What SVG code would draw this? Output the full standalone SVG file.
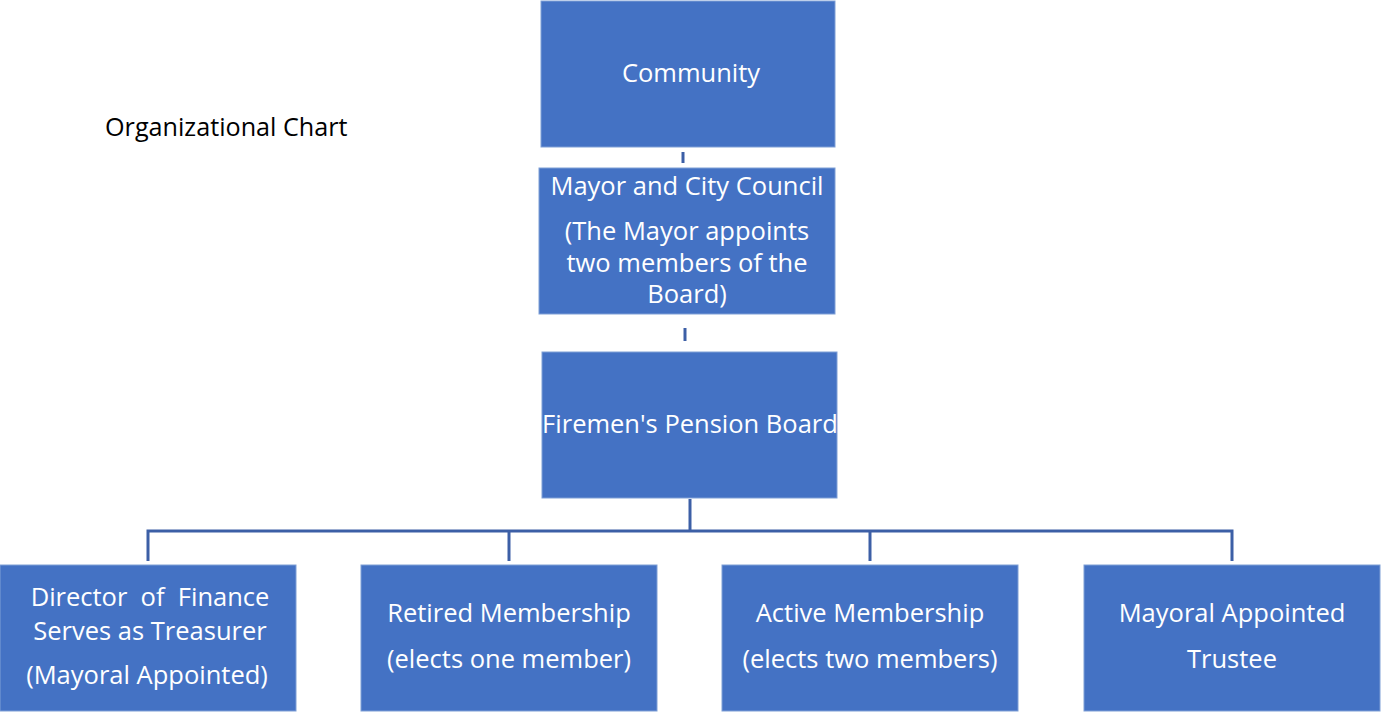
<svg xmlns="http://www.w3.org/2000/svg" width="1381" height="712" viewBox="0 0 1381 712">
<style>
.box{fill:#4472C4;stroke:#7E9FD6;stroke-width:1}
.t{font-family:"Open Sans","Noto Sans",sans-serif;font-size:25.5px;fill:#FFFFFF;text-anchor:middle}
.lbl{font-family:"Open Sans","Noto Sans",sans-serif;font-size:25.2px;fill:#000000}
.c{stroke:#3C5FA6;stroke-width:3;fill:none}
</style>
<rect width="1381" height="712" fill="#FFFFFF"/>
<text class="lbl" x="105" y="136">Organizational Chart</text>
<g id="connectors">
<line class="c" x1="683" y1="152" x2="683" y2="163"/>
<line class="c" x1="685" y1="328" x2="685" y2="341"/>
<polyline class="c" points="690,499 690,531"/>
<polyline class="c" points="148,561 148,531 1232,531 1232,561"/>
<line class="c" x1="509" y1="531" x2="509" y2="561"/>
<line class="c" x1="870" y1="531" x2="870" y2="561"/>
</g>
<g id="community">
<rect class="box" x="541" y="1" width="294" height="146"/>
<text class="t" x="691" y="82">Community</text>
</g>
<g id="mayor">
<rect class="box" x="539" y="168" width="296" height="146"/>
<text class="t" x="687" y="195">Mayor and City Council</text>
<text class="t" x="687" y="240">(The Mayor appoints</text>
<text class="t" x="687" y="272">two members of the</text>
<text class="t" x="687" y="303">Board)</text>
</g>
<g id="board">
<rect class="box" x="542" y="352" width="295" height="146"/>
<text class="t" x="690" y="433">Firemen's Pension Board</text>
</g>
<g id="director">
<rect class="box" x="0" y="565" width="296" height="146"/>
<text class="t" x="150" y="606" xml:space="preserve" style="white-space:pre">Director  of  Finance</text>
<text class="t" x="150" y="640">Serves as Treasurer</text>
<text class="t" x="147" y="684">(Mayoral Appointed)</text>
</g>
<g id="retired">
<rect class="box" x="361" y="565" width="296" height="146"/>
<text class="t" x="509" y="622">Retired Membership</text>
<text class="t" x="509" y="668">(elects one member)</text>
</g>
<g id="active">
<rect class="box" x="722" y="565" width="296" height="146"/>
<text class="t" x="870" y="622">Active Membership</text>
<text class="t" x="870" y="668">(elects two members)</text>
</g>
<g id="trustee">
<rect class="box" x="1084" y="565" width="296" height="146"/>
<text class="t" x="1232" y="622">Mayoral Appointed</text>
<text class="t" x="1232" y="668">Trustee</text>
</g>
</svg>
